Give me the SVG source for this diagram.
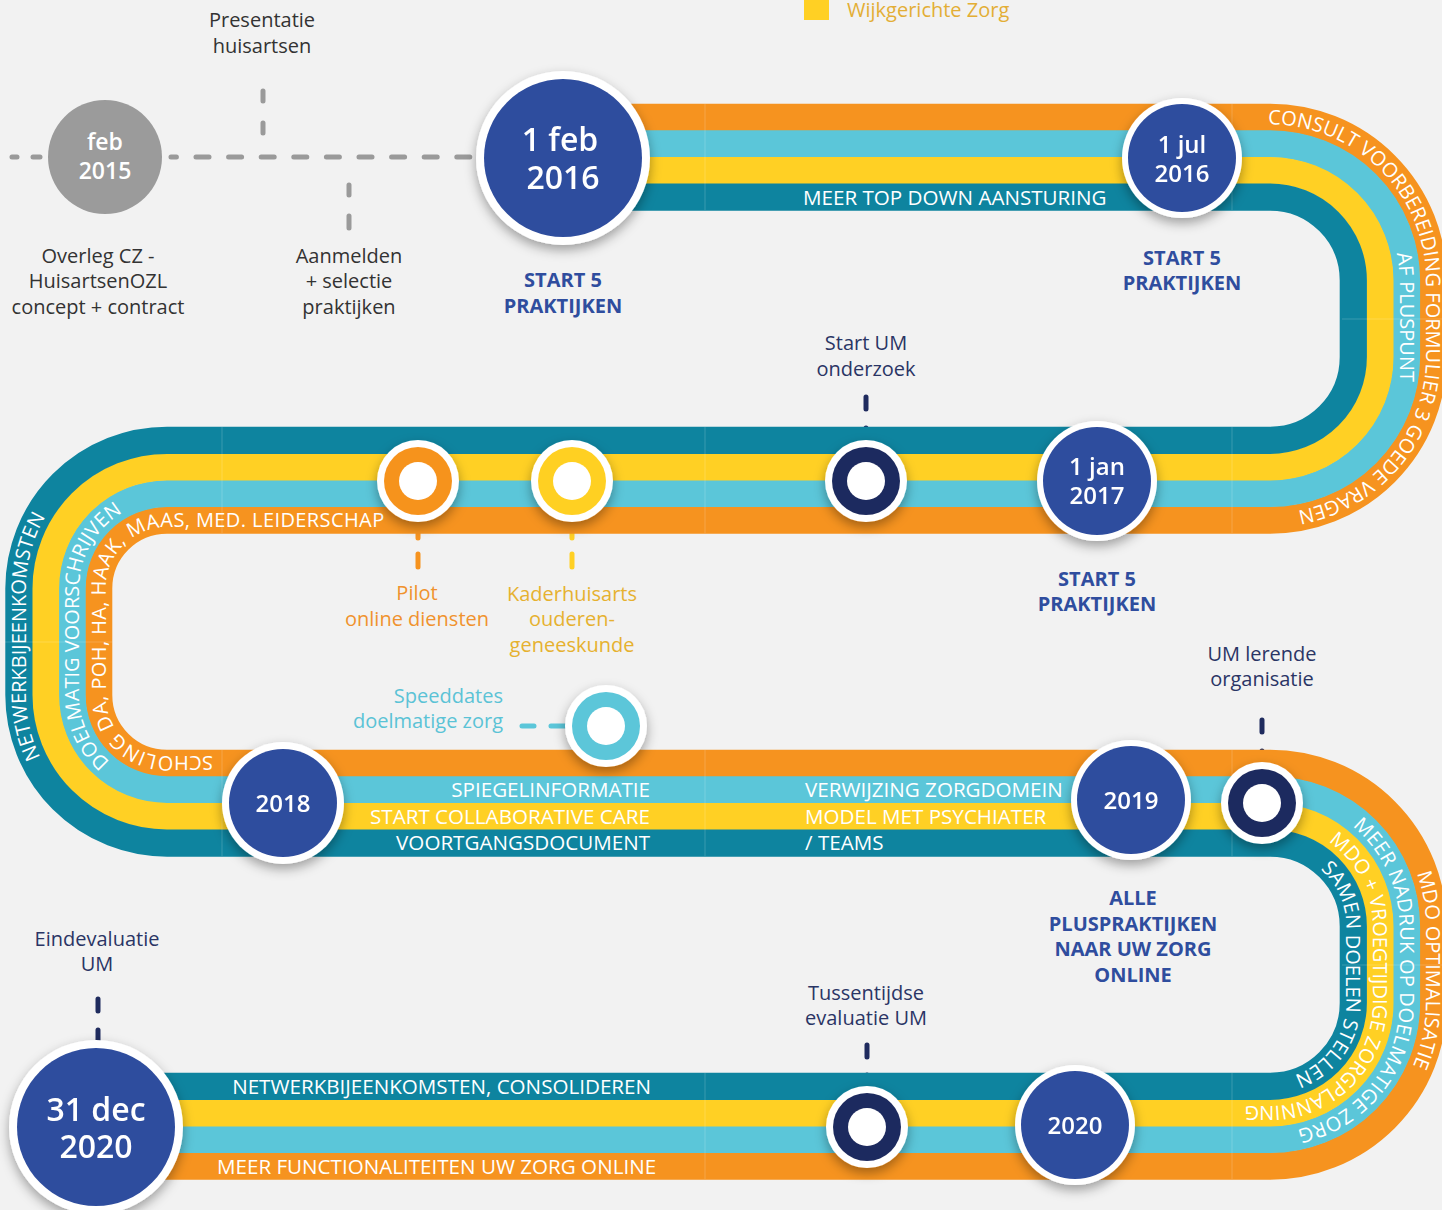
<svg xmlns="http://www.w3.org/2000/svg" width="1442" height="1210" viewBox="0 0 1442 1210">
<style>
.st{fill:none;stroke-width:27.2;stroke-linejoin:round}
.or{stroke:#F6931F}.cy{stroke:#5BC6D9}.ye{stroke:#FFD024}.te{stroke:#0E849F}
.bt{font-family:"Open Sans","Liberation Sans",sans-serif;font-size:20px;fill:#fff}
.bs{font-family:"Open Sans","Liberation Sans",sans-serif;font-size:20.6px;fill:#fff}
.lb{font-family:"Open Sans","Liberation Sans",sans-serif;font-size:20px;text-anchor:middle}
.lbe{font-family:"Open Sans","Liberation Sans",sans-serif;font-size:20px;text-anchor:end}
.dk{fill:#333}.nv{fill:#2A3565}
.bold{font-family:"Open Sans","Liberation Sans",sans-serif;font-size:20px;font-weight:700;fill:#2F4D9E;text-anchor:middle}
.dt{font-family:"Open Sans","Liberation Sans",sans-serif;font-weight:600;fill:#fff;text-anchor:middle}
.seam{stroke:#fff;stroke-opacity:0.18;stroke-width:1}
.dash{fill:none;stroke-width:5;stroke-linecap:round}
</style>
<defs>
<filter id="sh" x="-30%" y="-30%" width="160%" height="170%">
<feDropShadow dx="0" dy="5" stdDeviation="6" flood-color="#000" flood-opacity="0.35"/>
</filter>
<path id="tc1" d="M1150 124.4H1270A156 156 0 0 1 1426 280.4V357A156 156 0 0 1 1270 513H1150"/>
<path id="tc2" d="M1270 150.9A129.5 129.5 0 0 1 1399.5 280.4V430"/>
<path id="tl1" d="M260 756.3H167A61.3 61.3 0 0 1 105.7 695V588.4A61.3 61.3 0 0 1 167 527.1H420"/>
<path id="tl2" d="M260 782.9H167A87.9 87.9 0 0 1 79.1 695V588.4A87.9 87.9 0 0 1 167 500.5H300"/>
<path id="tl3" d="M167 836.1A141.1 141.1 0 0 1 25.9 695V588.4A141.1 141.1 0 0 1 167 447.3H300"/>
<path id="tr1" d="M1200 770.3H1270A156 156 0 0 1 1426 926.4V1003A156 156 0 0 1 1270 1159.1H1150"/>
<path id="tr2" d="M1200 796.9H1270A129.5 129.5 0 0 1 1399.5 926.4V1003A129.5 129.5 0 0 1 1270 1132.5H1150"/>
<path id="tr3" d="M1150 823.5H1270A102.9 102.9 0 0 1 1372.9 926.4V1003A102.9 102.9 0 0 1 1270 1105.9H1150"/>
<path id="tr4" d="M1200 850.1H1270A76.3 76.3 0 0 1 1346.3 926.4V1003A76.3 76.3 0 0 1 1270 1079.3H1150"/>
</defs>
<rect width="1442" height="1210" fill="#F2F2F2"/>

<g id="legend">
<rect x="804" y="-5" width="25" height="25" fill="#FFD024"/>
<text x="847" y="17" font-family="Open Sans, Liberation Sans, sans-serif" font-size="20" fill="#E3AE35">Wijkgerichte Zorg</text>
</g>

<g id="connectors">
<path class="dash" stroke="#9A9A9A" stroke-width="6" d="M12 157H17M33 157H40"/>
<path class="dash" stroke="#9A9A9A" stroke-width="6" stroke-dasharray="13 19.6" stroke-dashoffset="7.6" d="M171 157H470"/>
<path class="dash" stroke="#9A9A9A" stroke-width="6" d="M263 91V101M263 123V133"/>
<path class="dash" stroke="#9A9A9A" stroke-width="6" d="M349 185V195M349 216V228"/>
<path class="dash" stroke="#1F2B5E" d="M866 397V409M866 428V445"/>
<path class="dash" stroke="#F6931F" d="M418 528V538M418 554V567"/>
<path class="dash" stroke="#FFD024" d="M572 528V538M572 554V567"/>
<path class="dash" stroke="#5BC6D9" d="M522 726H534M551 726H566"/>
<path class="dash" stroke="#1F2B5E" d="M1262 720V732M1262 751V766"/>
<path class="dash" stroke="#1F2B5E" d="M867 1045V1057M867 1075V1090"/>
<path class="dash" stroke="#1F2B5E" d="M98 999V1011M98 1030V1045"/>
</g>

<g id="road">
<path class="st or" d="M580 117.3H1270A163.1 163.1 0 0 1 1433.1 280.4V357A163.1 163.1 0 0 1 1270 520.1H167A68.3 68.3 0 0 0 98.7 588.4V695A68.3 68.3 0 0 0 167 763.3H1270A163.1 163.1 0 0 1 1433.1 926.4V1003A163.1 163.1 0 0 1 1270 1166.1H96"/>
<path class="st cy" d="M580 143.9H1270A136.5 136.5 0 0 1 1406.5 280.4V357A136.5 136.5 0 0 1 1270 493.5H167A94.9 94.9 0 0 0 72.1 588.4V695A94.9 94.9 0 0 0 167 789.9H1270A136.5 136.5 0 0 1 1406.5 926.4V1003A136.5 136.5 0 0 1 1270 1139.5H96"/>
<path class="st ye" d="M580 170.5H1270A109.9 109.9 0 0 1 1379.9 280.4V357A109.9 109.9 0 0 1 1270 466.9H167A121.5 121.5 0 0 0 45.5 588.4V695A121.5 121.5 0 0 0 167 816.5H1270A109.9 109.9 0 0 1 1379.9 926.4V1003A109.9 109.9 0 0 1 1270 1112.9H96"/>
<path class="st te" d="M580 197.1H1270A83.3 83.3 0 0 1 1353.3 280.4V357A83.3 83.3 0 0 1 1270 440.3H167A148.1 148.1 0 0 0 18.9 588.4V695A148.1 148.1 0 0 0 167 843.1H1270A83.3 83.3 0 0 1 1353.3 926.4V1003A83.3 83.3 0 0 1 1270 1086.3H96"/>
<path class="seam" d="M705 104V210M1232 104V210M1232 427V533M705 427V533M222 427V533M1342 319H1442M222 750V856M705 750V856M1232 750V856M1232 1073V1179M705 1073V1179M0 642H112M1342 965H1442"/>
</g>

<g id="road-text">
<text class="bs" x="803" y="204.5">MEER TOP DOWN AANSTURING</text>
<text class="bt"><textPath href="#tc1" startOffset="118">CONSULT VOORBEREIDING FORMULIER 3 GOEDE VRAGEN</textPath></text>
<text class="bt"><textPath href="#tc2" startOffset="176">AF PLUSPUNT</textPath></text>
<text class="bt" letter-spacing="0.4"><textPath href="#tl1" startOffset="47">SCHOLING DA, POH, HA, HAAK, MAAS, MED. LEIDERSCHAP</textPath></text>
<text class="bt"><textPath href="#tl2" startOffset="155">DOELMATIG VOORSCHRIJVEN</textPath></text>
<text class="bt"><textPath href="#tl3" startOffset="157">NETWERKBIJEENKOMSTEN</textPath></text>
<text class="bs" x="650" y="797" text-anchor="end">SPIEGELINFORMATIE</text>
<text class="bs" x="650" y="823.5" text-anchor="end">START COLLABORATIVE CARE</text>
<text class="bs" x="650" y="850" text-anchor="end">VOORTGANGSDOCUMENT</text>
<text class="bs" x="805" y="797">VERWIJZING ZORGDOMEIN</text>
<text class="bs" x="805" y="823.5">MODEL MET PSYCHIATER</text>
<text class="bs" x="805" y="850">/ TEAMS</text>
<text class="bt"><textPath href="#tr1" startOffset="261">MDO OPTIMALISATIE</textPath></text>
<text class="bt" letter-spacing="0.2"><textPath href="#tr2" startOffset="159">MEER NADRUK OP DOELMATIGE ZORG</textPath></text>
<text class="bt"><textPath href="#tr3" startOffset="182">MDO + VROEGTIJDIGE ZORGPLANNING</textPath></text>
<text class="bt"><textPath href="#tr4" startOffset="125">SAMEN DOELEN STELLEN</textPath></text>
<text class="bs" x="651" y="1093.5" text-anchor="end">NETWERKBIJEENKOMSTEN, CONSOLIDEREN</text>
<text class="bs" x="217" y="1173.5">MEER FUNCTIONALITEITEN UW ZORG ONLINE</text>
</g>

<g id="n-feb2015">
<circle cx="105" cy="157" r="57" fill="#9B9B9B"/>
<text class="dt" x="105" y="150" font-size="23">feb</text>
<text class="dt" x="105" y="179" font-size="23">2015</text>
</g>
<g id="n-1feb2016" filter="url(#sh)">
<circle cx="563" cy="158" r="87" fill="#fff"/>
<circle cx="563" cy="158" r="79" fill="#2F4D9E"/>
<text class="dt" x="560" y="151" font-size="32">1 feb</text>
<text class="dt" x="563" y="189" font-size="32">2016</text>
</g>
<g id="n-1jul2016" filter="url(#sh)">
<circle cx="1182" cy="158" r="60" fill="#fff"/>
<circle cx="1182" cy="158" r="54" fill="#2F4D9E"/>
<text class="dt" x="1182" y="153" font-size="24">1 jul</text>
<text class="dt" x="1182" y="182" font-size="24">2016</text>
</g>
<g id="n-1jan2017" filter="url(#sh)">
<circle cx="1097" cy="481" r="60" fill="#fff"/>
<circle cx="1097" cy="481" r="54" fill="#2F4D9E"/>
<text class="dt" x="1097" y="475" font-size="24">1 jan</text>
<text class="dt" x="1097" y="504" font-size="24">2017</text>
</g>
<g id="n-pilot" filter="url(#sh)">
<circle cx="418" cy="481" r="41" fill="#fff"/>
<circle cx="418" cy="481" r="34" fill="#F6931F"/>
<circle cx="418" cy="481" r="19" fill="#fff"/>
</g>
<g id="n-kader" filter="url(#sh)">
<circle cx="572" cy="481" r="41" fill="#fff"/>
<circle cx="572" cy="481" r="34" fill="#FFD024"/>
<circle cx="572" cy="481" r="19" fill="#fff"/>
</g>
<g id="n-startum" filter="url(#sh)">
<circle cx="866" cy="481" r="41" fill="#fff"/>
<circle cx="866" cy="481" r="34" fill="#1F2B5E"/>
<circle cx="866" cy="481" r="19" fill="#fff"/>
</g>
<g id="n-speeddates" filter="url(#sh)">
<circle cx="606" cy="726" r="41" fill="#fff"/>
<circle cx="606" cy="726" r="34" fill="#5BC6D9"/>
<circle cx="606" cy="726" r="19" fill="#fff"/>
</g>
<g id="n-2018" filter="url(#sh)">
<circle cx="283" cy="803" r="61" fill="#fff"/>
<circle cx="283" cy="803" r="54" fill="#2F4D9E"/>
<text class="dt" x="283" y="811.5" font-size="24">2018</text>
</g>
<g id="n-2019" filter="url(#sh)">
<circle cx="1131" cy="800" r="60" fill="#fff"/>
<circle cx="1131" cy="800" r="54" fill="#2F4D9E"/>
<text class="dt" x="1131" y="808.5" font-size="24">2019</text>
</g>
<g id="n-umlerend" filter="url(#sh)">
<circle cx="1262" cy="803" r="41" fill="#fff"/>
<circle cx="1262" cy="803" r="34" fill="#1F2B5E"/>
<circle cx="1262" cy="803" r="19" fill="#fff"/>
</g>
<g id="n-tussen" filter="url(#sh)">
<circle cx="867" cy="1127" r="41" fill="#fff"/>
<circle cx="867" cy="1127" r="34" fill="#1F2B5E"/>
<circle cx="867" cy="1127" r="19" fill="#fff"/>
</g>
<g id="n-2020" filter="url(#sh)">
<circle cx="1075" cy="1125" r="60" fill="#fff"/>
<circle cx="1075" cy="1125" r="54" fill="#2F4D9E"/>
<text class="dt" x="1075" y="1133.5" font-size="24">2020</text>
</g>
<g id="n-31dec2020" filter="url(#sh)">
<circle cx="96" cy="1127" r="87" fill="#fff"/>
<circle cx="96" cy="1127" r="79" fill="#2F4D9E"/>
<text class="dt" x="96" y="1121" font-size="32">31 dec</text>
<text class="dt" x="96" y="1158" font-size="32">2020</text>
</g>

<g id="labels">
<text class="lb dk" x="262" y="27">Presentatie</text>
<text class="lb dk" x="262" y="53">huisartsen</text>
<text class="lb dk" x="98" y="263">Overleg CZ -</text>
<text class="lb dk" x="98" y="288">HuisartsenOZL</text>
<text class="lb dk" x="98" y="314">concept + contract</text>
<text class="lb dk" x="349" y="263">Aanmelden</text>
<text class="lb dk" x="349" y="288">+ selectie</text>
<text class="lb dk" x="349" y="314">praktijken</text>
<text class="bold" x="563" y="287">START 5</text>
<text class="bold" x="563" y="313">PRAKTIJKEN</text>
<text class="bold" x="1182" y="265">START 5</text>
<text class="bold" x="1182" y="290">PRAKTIJKEN</text>
<text class="bold" x="1097" y="586">START 5</text>
<text class="bold" x="1097" y="611">PRAKTIJKEN</text>
<text class="lb nv" x="866" y="350">Start UM</text>
<text class="lb nv" x="866" y="376">onderzoek</text>
<text class="lb" fill="#F0922E" x="417" y="600">Pilot</text>
<text class="lb" fill="#F0922E" x="417" y="626">online diensten</text>
<text class="lb" fill="#E6B12F" x="572" y="601">Kaderhuisarts</text>
<text class="lb" fill="#E6B12F" x="572" y="626">ouderen-</text>
<text class="lb" fill="#E6B12F" x="572" y="652">geneeskunde</text>
<text class="lbe" fill="#5BC3D6" x="503" y="703">Speeddates</text>
<text class="lbe" fill="#5BC3D6" x="503" y="728">doelmatige zorg</text>
<text class="lb nv" x="1262" y="661">UM lerende</text>
<text class="lb nv" x="1262" y="686">organisatie</text>
<text class="bold" x="1133" y="905">ALLE</text>
<text class="bold" x="1133" y="931">PLUSPRAKTIJKEN</text>
<text class="bold" x="1133" y="956">NAAR UW ZORG</text>
<text class="bold" x="1133" y="982">ONLINE</text>
<text class="lb nv" x="97" y="946">Eindevaluatie</text>
<text class="lb nv" x="97" y="971">UM</text>
<text class="lb nv" x="866" y="1000">Tussentijdse</text>
<text class="lb nv" x="866" y="1025">evaluatie UM</text>
</g>
</svg>
